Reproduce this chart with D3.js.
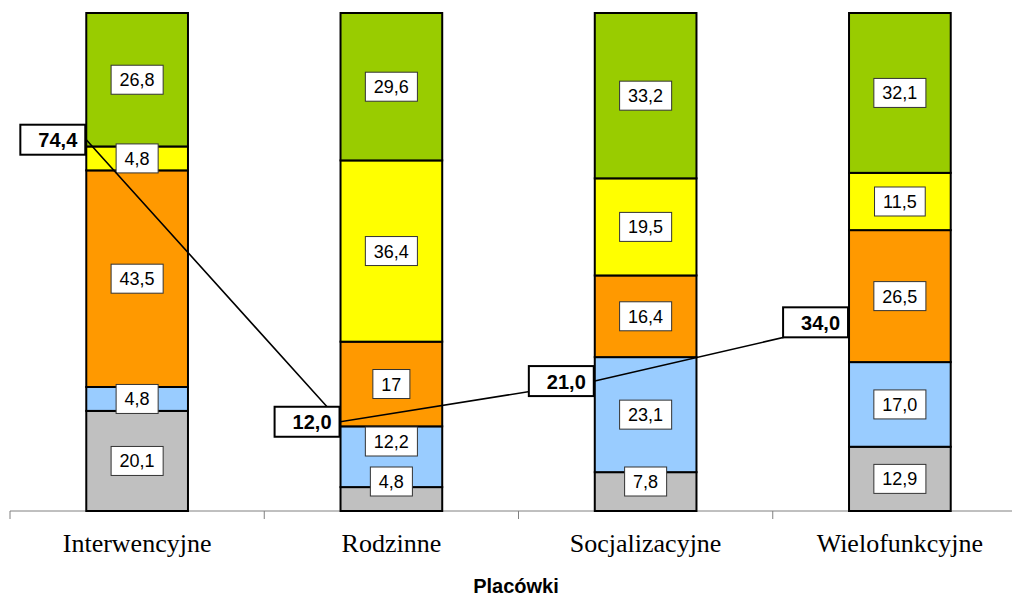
<!DOCTYPE html>
<html>
<head>
<meta charset="utf-8">
<script src="https://cdn.jsdelivr.net/npm/d3@7"></script>
<style>
  html, body { margin: 0; padding: 0; background: #fff; }
  svg { display: block; }
</style>
</head>
<body>
<svg id="chart" width="1012" height="597"></svg>
<script>
// ---- data ----
const categories = ["Interwencyjne", "Rodzinne", "Socjalizacyjne", "Wielofunkcyjne"];
const seriesNames = ["s1", "s2", "s3", "s4", "s5"]; // bottom to top
const s1 = [20.1, 4.8, 7.8, 12.9];   // gray
const s2 = [4.8, 12.2, 23.1, 17.0];  // light blue
const s3 = [43.5, 17, 16.4, 26.5];   // orange
const s4 = [4.8, 36.4, 19.5, 11.5];  // yellow
const s5 = [26.8, 29.6, 33.2, 32.1]; // green
const s3Labels = ["43,5", "17", "16,4", "26,5"];
const lineValues = [74.4, 12.0, 21.0, 34.0];
const axisTitle = "Placówki";

const colors = ["#C0C0C0", "#99CCFF", "#FF9900", "#FFFF00", "#99CC00"];
const seriesValues = [s1, s2, s3, s4, s5];
const fmt = v => v.toFixed(1).replace(".", ",");

const W = 1012, H = 597;
const svg = d3.select("#chart");
svg.append("rect").attr("width", W).attr("height", H).attr("fill", "#fff");

const x = d3.scaleBand().domain(categories).range([10, 1027]).paddingInner(0.6).paddingOuter(0.3);
const y = d3.scaleLinear().domain([0, 100]).range([511, 13]);
const y2 = d3.scaleLinear().domain([0, 100]).range([476, 24]);

// axis
const axisG = svg.append("g").attr("transform", "translate(0,511)");
const axis = d3.axisBottom(x).tickSize(0).tickFormat("");
axisG.call(axis);
axisG.select(".domain").remove();
axisG.append("line").attr("x1", 10).attr("x2", 1027).attr("y1", 0).attr("y2", 0)
  .attr("stroke", "#808080").attr("stroke-width", 1);
const step = x.step();
const tickXs = d3.range(categories.length + 1).map(i => x.range()[0] + i * step);
axisG.selectAll("line.tk").data(tickXs).join("line").attr("class", "tk")
  .attr("x1", d => d).attr("x2", d => d).attr("y1", 0).attr("y2", 8)
  .attr("stroke", "#808080").attr("stroke-width", 1);

// category labels
svg.append("g").selectAll("text").data(categories).join("text")
  .attr("x", d => x(d) + x.bandwidth() / 2)
  .attr("y", 552)
  .attr("text-anchor", "middle")
  .attr("font-family", "'Times New Roman', 'Liberation Serif', serif")
  .attr("font-size", 26)
  .attr("fill", "#000")
  .text(d => d);

// axis title
svg.append("text").attr("x", 516).attr("y", 593)
  .attr("text-anchor", "middle")
  .attr("font-family", "Arial, 'Liberation Sans', sans-serif")
  .attr("font-weight", "bold").attr("font-size", 20)
  .text(axisTitle);

// stacked data
const table = categories.map((c, i) => {
  const o = { cat: c };
  seriesNames.forEach((s, j) => o[s] = seriesValues[j][i]);
  return o;
});
const stacked = d3.stack().keys(seriesNames)(table);

const barsG = svg.append("g");
stacked.forEach((layer, j) => {
  barsG.selectAll(null).data(layer).join("rect")
    .attr("x", d => x(d.data.cat))
    .attr("width", x.bandwidth())
    .attr("y", d => y(d[1]))
    .attr("height", d => y(d[0]) - y(d[1]))
    .attr("fill", colors[j])
    .attr("stroke", "#000")
    .attr("stroke-width", 2);
});

// bar labels (bottom to top, avoid overlapping axis / each other)
const labG = svg.append("g");
const boxH = 29, padX = 8.5, gap = 11;
categories.forEach((c, i) => {
  let prevTop = 511 - 15 + gap;
  stacked.forEach((layer, j) => {
    const d = layer[i];
    const txt = j === 2 ? s3Labels[i] : fmt(seriesValues[j][i]);
    let cy = (y(d[0]) + y(d[1])) / 2;
    const bottom = cy + boxH / 2;
    const limit = prevTop - gap;
    if (bottom > limit) { cy -= (bottom - limit); }
    const cx = x(c) + x.bandwidth() / 2;
    const g = labG.append("g");
    const rect = g.append("rect");
    const t = g.append("text")
      .attr("x", cx).attr("y", cy + 6.5)
      .attr("text-anchor", "middle")
      .attr("font-family", "Arial, 'Liberation Sans', sans-serif")
      .attr("font-size", 18).attr("fill", "#000")
      .text(txt);
    const tw = t.node().getComputedTextLength();
    rect.attr("x", cx - tw / 2 - padX).attr("y", cy - boxH / 2)
      .attr("width", tw + 2 * padX).attr("height", boxH)
      .attr("fill", "#fff").attr("stroke", "#333").attr("stroke-width", 1);
    prevTop = cy - boxH / 2;
  });
});

// line series
const pts = categories.map((c, i) => [x(c), y2(lineValues[i])]);
svg.append("path").attr("d", d3.line()(pts))
  .attr("fill", "none").attr("stroke", "#000").attr("stroke-width", 1.6);

// line labels
const llG = svg.append("g");
pts.forEach((p, i) => {
  const g = llG.append("g");
  const rect = g.append("rect");
  const t = g.append("text")
    .attr("font-family", "Arial, 'Liberation Sans', sans-serif")
    .attr("font-weight", "bold").attr("font-size", 20)
    .attr("text-anchor", "end")
    .text(fmt(lineValues[i]));
  const tw = t.node().getComputedTextLength();
  const bw = tw + 26, bh = 30;
  const right = p[0] - 1;
  rect.attr("x", right - bw).attr("y", p[1] - bh / 2).attr("width", bw).attr("height", bh)
    .attr("fill", "#fff").attr("stroke", "#000").attr("stroke-width", 2);
  t.attr("x", right - 8).attr("y", p[1] + 7.5);
});
</script>
</body>
</html>
